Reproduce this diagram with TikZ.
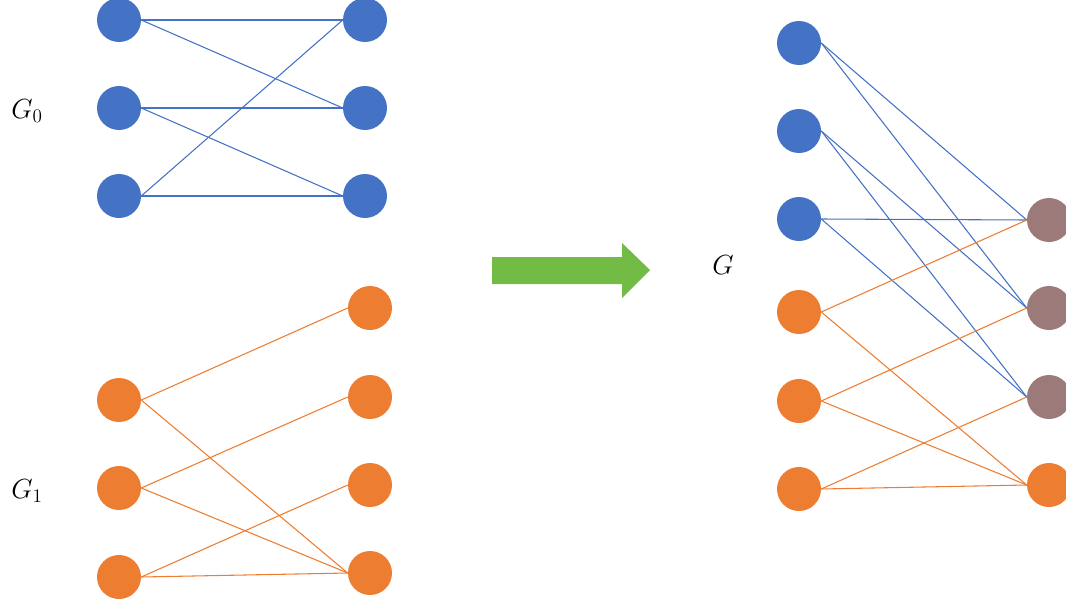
\documentclass[tikz,border=0pt]{standalone}
\definecolor{vblue}{HTML}{4472C4}
\definecolor{vorange}{HTML}{ED7D31}
\definecolor{vmauve}{HTML}{9C7A7A}
\definecolor{vgreen}{HTML}{72BB44}
\tikzset{
  vert/.style={circle, inner sep=0pt, minimum size=33pt},
  bvert/.style={vert, fill=vblue},
  overt/.style={vert, fill=vorange},
  mvert/.style={vert, fill=vmauve},
  bedge/.style={draw=vblue, line width=0.8pt},
  oedge/.style={draw=vorange, line width=0.8pt},
  glabel/.style={inner sep=0pt, font=\fontsize{20.74}{24}\selectfont}
}

\begin{document}
\begin{tikzpicture}[x=0.75pt, y=-0.75pt]
				\useasboundingbox (0,0) rectangle (1066,603);
				
				\node[bvert] (g0l1) at (119,20) {};
				\node[bvert] (g0l2) at (119,108) {};
				\node[bvert] (g0l3) at (119,196) {};
				\node[bvert] (g0r1) at (365,20) {};
				\node[bvert] (g0r2) at (365,108) {};
				\node[bvert] (g0r3) at (365,196) {};
				\draw[bedge] (g0l1.east) -- (g0r1.west);
				\draw[bedge] (g0l1.east) -- (g0r2.west);
				\draw[bedge] (g0l2.east) -- (g0r2.west);
				\draw[bedge] (g0l2.east) -- (g0r3.west);
				\draw[bedge] (g0l3.east) -- (g0r1.west);
				\draw[bedge] (g0l3.east) -- (g0r3.west);
				
				\node[overt] (g1l1) at (119,400) {};
				\node[overt] (g1l2) at (119,488) {};
				\node[overt] (g1l3) at (119,577) {};
				\node[overt] (g1r1) at (370,308) {};
				\node[overt] (g1r2) at (370,397) {};
				\node[overt] (g1r3) at (370,485) {};
				\node[overt] (g1r4) at (370,573) {};
				\draw[oedge] (g1l1.east) -- (g1r1.west);
				\draw[oedge] (g1l1.east) -- (g1r4.west);
				\draw[oedge] (g1l2.east) -- (g1r2.west);
				\draw[oedge] (g1l2.east) -- (g1r4.west);
				\draw[oedge] (g1l3.east) -- (g1r3.west);
				\draw[oedge] (g1l3.east) -- (g1r4.west);
				
				\node[glabel] (lab0) at (27,111) {$G_0$};
				\node[glabel] (lab1) at (27,491) {$G_1$};
				
				\fill[vgreen] (492,257) -- (622,257) -- (622,243) -- (650,270) -- (622,298) -- (622,284) -- (492,284) -- cycle;
				
				\node[glabel] (lab) at (723,265) {$G$};
				
				\node[bvert] (gb1) at (799,43) {};
				\node[bvert] (gb2) at (799,131) {};
				\node[bvert] (gb3) at (799,219) {};
				\node[overt] (go1) at (799,312) {};
				\node[overt] (go2) at (799,401) {};
				\node[overt] (go3) at (799,489) {};
				\node[mvert] (gm1) at (1049,220) {};
				\node[mvert] (gm2) at (1049,308) {};
				\node[mvert] (gm3) at (1049,397) {};
				\node[overt] (go4) at (1049,485) {};
				\draw[bedge] (gb1.east) -- (gm1.west);
				\draw[bedge] (gb1.east) -- (gm2.west);
				\draw[bedge] (gb2.east) -- (gm2.west);
				\draw[bedge] (gb2.east) -- (gm3.west);
				\draw[bedge] (gb3.east) -- (gm1.west);
				\draw[bedge] (gb3.east) -- (gm3.west);
				\draw[oedge] (go1.east) -- (gm1.west);
				\draw[oedge] (go1.east) -- (go4.west);
				\draw[oedge] (go2.east) -- (gm2.west);
				\draw[oedge] (go2.east) -- (go4.west);
				\draw[oedge] (go3.east) -- (gm3.west);
				\draw[oedge] (go3.east) -- (go4.west);
			\end{tikzpicture}
\end{document}
